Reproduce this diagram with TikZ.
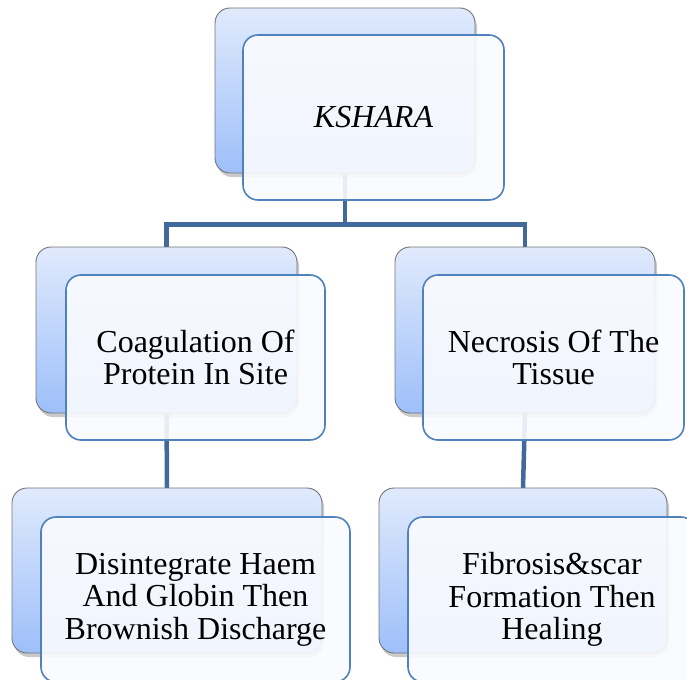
\documentclass[tikz,border=0pt]{standalone}
\usepackage{fontspec}
\setmainfont{Liberation Serif}
\usetikzlibrary{shadows}
\pgfdeclarelayer{background}
\pgfsetlayers{background,main}
\definecolor{connc}{RGB}{65,105,155}
\definecolor{frontc}{RGB}{79,129,189}
\definecolor{backtop}{RGB}{224,234,252}
\definecolor{backbot}{RGB}{158,191,250}
\definecolor{backline}{RGB}{115,115,120}
\definecolor{frontfill}{RGB}{250,251,255}
\tikzset{
  backbox/.style={rectangle, rounded corners=15pt, draw=backline, line width=0.9pt,
    top color=backtop, bottom color=backbot, inner sep=0pt, outer sep=0pt,
    drop shadow={shadow xshift=2pt, shadow yshift=-4pt, opacity=0.35, fill=black!60}},
  frontbox/.style={rectangle, rounded corners=15pt, draw=frontc, line width=1.6pt,
    fill=frontfill, fill opacity=0.9, text opacity=1, inner sep=0pt, outer sep=0pt,
    align=center, font=\fontsize{32}{32.5}\selectfont},
  conn/.style={draw=connc, line width=4.5pt}
}
\begin{document}
\begin{tikzpicture}[x=1pt,y=-1pt]
\useasboundingbox (0,0) rectangle (687,679);
\clip (0,0) rectangle (687,679);
% back boxes
\node[backbox, minimum width=260pt, minimum height=165pt] (k0) at (345,90.5) {};
\node[backbox, minimum width=261pt, minimum height=166pt] (c1) at (166.5,330) {};
\node[backbox, minimum width=260pt, minimum height=166pt] (c2) at (525,330) {};
\node[backbox, minimum width=310pt, minimum height=165pt] (d1) at (167,570.5) {};
\node[backbox, minimum width=288pt, minimum height=165pt] (d2) at (523,570.5) {};
% front boxes
\node[frontbox, minimum width=261pt, minimum height=165pt] (k0f) at (373.5,117.5) {\itshape KSHARA};
\node[frontbox, minimum width=259pt, minimum height=165pt] (c1f) at (195.5,357.5) {Coagulation Of\\Protein In Site};
\node[frontbox, minimum width=261pt, minimum height=165pt] (c2f) at (553.5,357.5) {Necrosis Of The\\Tissue};
\node[frontbox, minimum width=309pt, minimum height=165pt] (d1f) at (195.5,599.5) {Disintegrate Haem\\And Globin Then\\Brownish Discharge};
\node[frontbox, minimum width=288pt, minimum height=165pt] (d2f) at (552,599.5) {Fibrosis\&scar\\Formation Then\\Healing};
% connectors
\coordinate (bus) at (345,224.5);
\begin{pgfonlayer}{background}
\draw[conn] (k0.south) -- (bus);
\draw[conn] (bus) -| (c1.north);
\draw[conn] (bus) -| (c2.north);
\draw[conn] (c1.south) -- (d1.north);
\draw[conn] (c2.south) -- (d2.north);
\end{pgfonlayer}
\end{tikzpicture}
\end{document}
